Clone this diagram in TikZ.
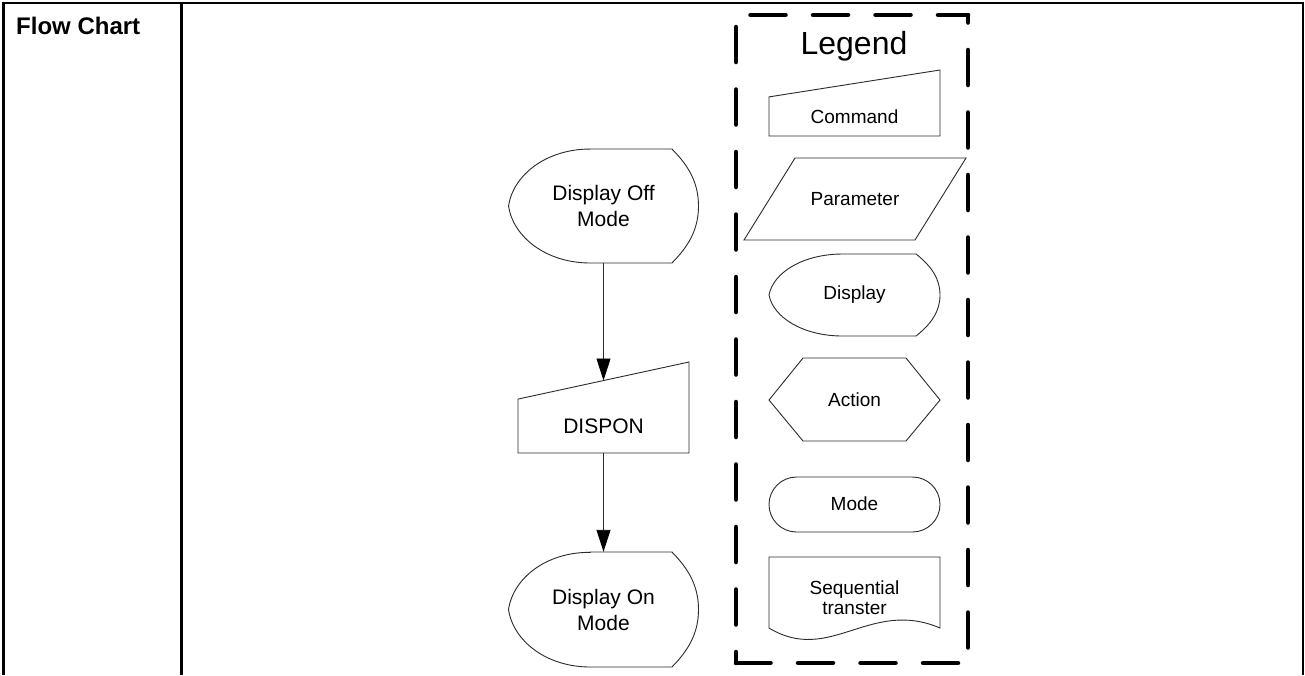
\documentclass[tikz,border=0pt]{standalone}
\usepackage{fontspec}
\setmainfont{Liberation Sans}
\usetikzlibrary{arrows.meta,calc}
\definecolor{ink}{HTML}{000000}
\definecolor{edge}{HTML}{2B2B2B}
\tikzset{
  table rule/.style={draw=ink,line width=2.6pt},
  legend frame/.style={draw=ink,line width=4.5pt,line cap=round,dash pattern=on 35pt off 27.5pt},
  shape line/.style={draw=edge,line width=.9pt},
  flow arrow/.style={draw=edge,line width=.9pt,-{Triangle[length=22pt,width=14pt,color=ink]}},
  flow text/.style={font=\fontsize{21}{26}\selectfont,text=ink,align=center,inner sep=0pt},
  key text/.style={font=\fontsize{19}{20}\selectfont,text=ink,align=center,inner sep=0pt}
}
\newcommand{\displaypath}{(-0.14,-1) -- (0.72,-1) .. controls (0.9,-0.7) and (1,-0.4) .. (1,0)
  .. controls (1,0.4) and (0.9,0.7) .. (0.72,1) -- (-0.14,1)
  .. controls (-0.6,1) and (-0.95,0.55) .. (-1,0) .. controls (-0.95,-0.55) and (-0.6,-1) .. cycle}
\newcommand{\commandpath}{(-1,-0.185) -- (1,-1) -- (1,1) -- (-1,1) -- cycle}

\begin{document}
\begin{tikzpicture}[x=1pt,y=-1pt]
  \useasboundingbox (0,0) rectangle (1305,675);
  \fill[white] (0,0) rectangle (1305,675);

  % Table frame.
  \draw[table rule] (3.5,675) -- (3.5,3) -- (1303,3) -- (1303,675);
  \draw[table rule] (181.5,3) -- (181.5,675);
  \node[anchor=west,inner sep=0pt,font=\bfseries\fontsize{24}{28}\selectfont,text=ink]
    (title) at (16,26) {Flow Chart};

  % Flow: display off, command, display on.
  \begin{scope}[shift={(603.5,206)},xscale=95,yscale=57]
    \draw[shape line] \displaypath;
  \end{scope}
  \begin{scope}[shift={(603.5,407.5)},xscale=85.5,yscale=45.5]
    \draw[shape line] \commandpath;
  \end{scope}
  \begin{scope}[shift={(603.5,609.5)},xscale=95,yscale=57.5]
    \draw[shape line] \displaypath;
  \end{scope}

  \node[flow text,minimum width=190pt,minimum height=114pt] (off) at (603.5,206) {Display Off\\Mode};
  \node[flow text,minimum width=171pt,minimum height=54pt] (dispon) at (603.5,426) {DISPON};
  \coordinate (dispon in) at (603.5,380.5);
  \node[flow text,minimum width=190pt,minimum height=115pt] (on) at (603.5,609.5) {Display On\\Mode};

  \draw[flow arrow] (off) -- (dispon in);
  \draw[flow arrow] (dispon) -- (on);

  % Legend frame, one side at a time so the dashes sit where they do.
  \draw[legend frame,dash phase=48pt] (736,15) -- (968,15);
  \draw[legend frame,dash phase=27.5pt] (968,15) -- (968,663);
  \draw[legend frame,dash phase=52.5pt] (968,663) -- (736,663);
  \draw[legend frame,dash phase=24pt] (736,663) -- (736,15);
  \node[inner sep=0pt,font=\fontsize{32}{36}\selectfont,text=ink] (legend) at (854,46) {Legend};

  \begin{scope}[shift={(854.5,103)},xscale=85.5,yscale=33]
    \draw[shape line] \commandpath;
  \end{scope}
  \node[key text] (cmd key) at (854.5,116.5) {Command};

  \draw[shape line] (795,158) -- (966,158) -- (915,240) -- (744,240) -- cycle;
  \node[key text] (param key) at (855,199) {Parameter};

  \begin{scope}[shift={(854.5,295)},xscale=85.5,yscale=41]
    \draw[shape line] \displaypath;
  \end{scope}
  \node[key text] (display key) at (854.5,295) {Display};

  \draw[shape line] (769,400) -- (803,358) -- (906,358) -- (940,400) -- (906,441) -- (803,441) -- cycle;
  \node[key text] (action key) at (854.5,400) {Action};

  \draw[shape line,rounded corners=27.5pt] (769,477) rectangle (940,532);
  \node[key text] (mode key) at (854.5,504) {Mode};

  \draw[shape line] (769,557) -- (940,557) -- (940,628)
    .. controls (870,598) and (830,665) .. (769,628) -- cycle;
  \node[key text] (seq key) at (854.5,597.5) {Sequential\\transter};
\end{tikzpicture}
\end{document}
